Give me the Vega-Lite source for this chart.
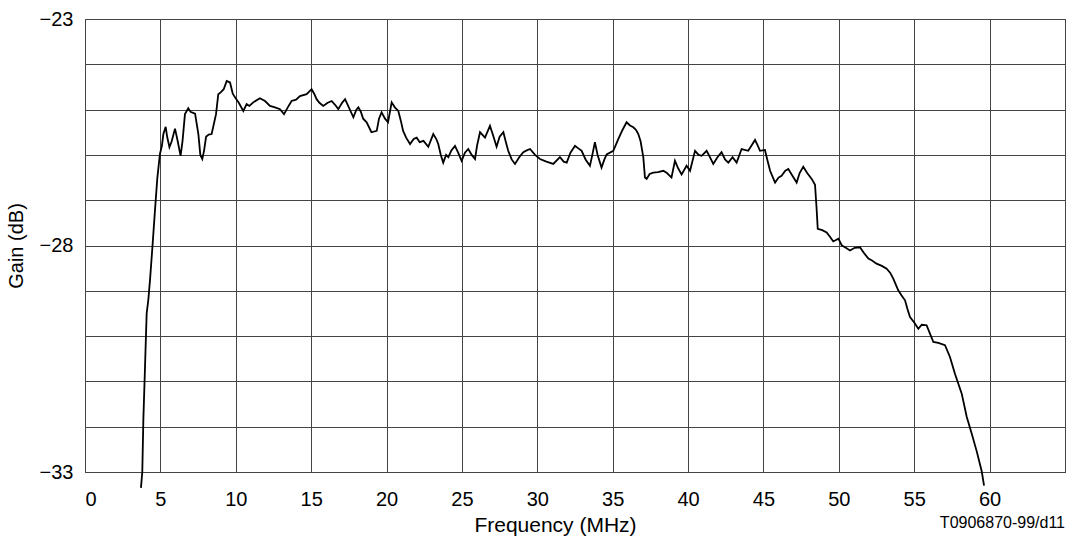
{
  "$schema": "https://vega.github.io/schema/vega-lite/v6.json",
  "width": 980,
  "height": 453,
  "autosize": "none",
  "padding": {"left": 85, "top": 19, "right": 7, "bottom": 66},
  "config": {
    "view": {"stroke": "#333", "strokeWidth": 1},
    "font": "Liberation Sans",
    "background": "white"
  },
  "data": {
    "values": [
      {"f": 3.71, "g": -33.35}, {"f": 3.8, "g": -33.0}, {"f": 3.87, "g": -31.85}, {"f": 3.98, "g": -30.68},
      {"f": 4.09, "g": -29.5}, {"f": 4.2, "g": -29.2}, {"f": 4.31, "g": -28.77}, {"f": 4.47, "g": -28.04},
      {"f": 4.64, "g": -27.23}, {"f": 4.8, "g": -26.5}, {"f": 4.97, "g": -25.98}, {"f": 5.1, "g": -25.8},
      {"f": 5.2, "g": -25.54}, {"f": 5.35, "g": -25.38}, {"f": 5.45, "g": -25.6}, {"f": 5.6, "g": -25.83},
      {"f": 5.75, "g": -25.7}, {"f": 5.97, "g": -25.42}, {"f": 6.15, "g": -25.7}, {"f": 6.34, "g": -26.02},
      {"f": 6.47, "g": -25.69}, {"f": 6.63, "g": -25.1}, {"f": 6.85, "g": -24.97}, {"f": 7.0, "g": -25.05},
      {"f": 7.3, "g": -25.09}, {"f": 7.52, "g": -25.54}, {"f": 7.65, "g": -26.0}, {"f": 7.78, "g": -26.09},
      {"f": 7.9, "g": -25.9}, {"f": 8.03, "g": -25.6}, {"f": 8.2, "g": -25.55}, {"f": 8.4, "g": -25.54},
      {"f": 8.69, "g": -25.1}, {"f": 8.84, "g": -24.66}, {"f": 9.0, "g": -24.62}, {"f": 9.2, "g": -24.55},
      {"f": 9.4, "g": -24.37}, {"f": 9.62, "g": -24.4}, {"f": 9.8, "g": -24.65}, {"f": 9.95, "g": -24.73},
      {"f": 10.2, "g": -24.85}, {"f": 10.5, "g": -25.03}, {"f": 10.72, "g": -24.88}, {"f": 10.9, "g": -24.92},
      {"f": 11.16, "g": -24.84}, {"f": 11.6, "g": -24.75}, {"f": 11.94, "g": -24.81}, {"f": 12.27, "g": -24.92},
      {"f": 12.6, "g": -24.95}, {"f": 12.93, "g": -24.99}, {"f": 13.2, "g": -25.1}, {"f": 13.45, "g": -24.95},
      {"f": 13.7, "g": -24.81}, {"f": 14.0, "g": -24.78}, {"f": 14.26, "g": -24.7}, {"f": 14.7, "g": -24.66},
      {"f": 15.03, "g": -24.55}, {"f": 15.2, "g": -24.65}, {"f": 15.36, "g": -24.77}, {"f": 15.55, "g": -24.85},
      {"f": 15.8, "g": -24.92}, {"f": 16.1, "g": -24.85}, {"f": 16.36, "g": -24.81}, {"f": 16.6, "g": -24.9},
      {"f": 16.8, "g": -24.99}, {"f": 17.05, "g": -24.85}, {"f": 17.25, "g": -24.77}, {"f": 17.5, "g": -24.95},
      {"f": 17.8, "g": -25.17}, {"f": 18.0, "g": -25.0}, {"f": 18.13, "g": -24.95}, {"f": 18.3, "g": -25.05},
      {"f": 18.45, "g": -25.2}, {"f": 18.68, "g": -25.28}, {"f": 19.0, "g": -25.5}, {"f": 19.35, "g": -25.47},
      {"f": 19.5, "g": -25.2}, {"f": 19.67, "g": -25.06}, {"f": 19.9, "g": -25.2}, {"f": 20.1, "g": -25.28},
      {"f": 20.34, "g": -24.84}, {"f": 20.55, "g": -24.95}, {"f": 20.78, "g": -25.03}, {"f": 20.95, "g": -25.25},
      {"f": 21.1, "g": -25.47}, {"f": 21.3, "g": -25.62}, {"f": 21.56, "g": -25.76}, {"f": 21.8, "g": -25.65},
      {"f": 22.0, "g": -25.62}, {"f": 22.2, "g": -25.72}, {"f": 22.45, "g": -25.69}, {"f": 22.77, "g": -25.82},
      {"f": 23.1, "g": -25.54}, {"f": 23.3, "g": -25.65}, {"f": 23.43, "g": -25.76}, {"f": 23.6, "g": -26.0},
      {"f": 23.76, "g": -26.17}, {"f": 23.95, "g": -26.0}, {"f": 24.1, "g": -26.05}, {"f": 24.3, "g": -25.9},
      {"f": 24.54, "g": -25.8}, {"f": 24.75, "g": -25.95}, {"f": 24.98, "g": -26.13}, {"f": 25.2, "g": -25.95},
      {"f": 25.42, "g": -25.87}, {"f": 25.65, "g": -26.0}, {"f": 25.87, "g": -26.09}, {"f": 26.0, "g": -25.8},
      {"f": 26.2, "g": -25.5}, {"f": 26.53, "g": -25.62}, {"f": 26.86, "g": -25.36}, {"f": 27.05, "g": -25.55},
      {"f": 27.3, "g": -25.82}, {"f": 27.5, "g": -25.6}, {"f": 27.75, "g": -25.5}, {"f": 27.9, "g": -25.7},
      {"f": 28.07, "g": -25.91}, {"f": 28.3, "g": -26.1}, {"f": 28.52, "g": -26.2}, {"f": 28.8, "g": -26.05},
      {"f": 29.07, "g": -25.94}, {"f": 29.3, "g": -25.9}, {"f": 29.52, "g": -25.87}, {"f": 29.85, "g": -26.0},
      {"f": 30.18, "g": -26.09}, {"f": 30.6, "g": -26.15}, {"f": 31.06, "g": -26.2}, {"f": 31.5, "g": -26.05},
      {"f": 31.75, "g": -26.15}, {"f": 31.95, "g": -26.17}, {"f": 32.2, "g": -25.95}, {"f": 32.5, "g": -25.8},
      {"f": 32.7, "g": -25.85}, {"f": 32.94, "g": -25.91}, {"f": 33.2, "g": -26.1}, {"f": 33.49, "g": -26.24},
      {"f": 33.65, "g": -26.0}, {"f": 33.82, "g": -25.72}, {"f": 34.0, "g": -26.0}, {"f": 34.26, "g": -26.28},
      {"f": 34.45, "g": -26.1}, {"f": 34.6, "g": -25.99}, {"f": 35.04, "g": -25.91}, {"f": 35.37, "g": -25.65},
      {"f": 35.65, "g": -25.45}, {"f": 35.92, "g": -25.28}, {"f": 36.15, "g": -25.35}, {"f": 36.37, "g": -25.39},
      {"f": 36.55, "g": -25.45}, {"f": 36.7, "g": -25.54}, {"f": 36.85, "g": -25.7}, {"f": 37.03, "g": -26.05},
      {"f": 37.14, "g": -26.5}, {"f": 37.25, "g": -26.53}, {"f": 37.45, "g": -26.42}, {"f": 37.69, "g": -26.39},
      {"f": 38.0, "g": -26.38}, {"f": 38.36, "g": -26.35}, {"f": 38.6, "g": -26.4}, {"f": 38.9, "g": -26.5},
      {"f": 39.13, "g": -26.13}, {"f": 39.35, "g": -26.3}, {"f": 39.57, "g": -26.43}, {"f": 39.9, "g": -26.24},
      {"f": 40.13, "g": -26.35}, {"f": 40.46, "g": -25.91}, {"f": 40.7, "g": -26.0}, {"f": 40.9, "g": -26.02},
      {"f": 41.23, "g": -25.91}, {"f": 41.45, "g": -26.05}, {"f": 41.67, "g": -26.2}, {"f": 41.95, "g": -26.05},
      {"f": 42.22, "g": -25.94}, {"f": 42.45, "g": -26.1}, {"f": 42.67, "g": -26.17}, {"f": 42.95, "g": -26.05},
      {"f": 43.22, "g": -26.17}, {"f": 43.55, "g": -25.87}, {"f": 43.99, "g": -25.91}, {"f": 44.2, "g": -25.8},
      {"f": 44.44, "g": -25.67}, {"f": 44.6, "g": -25.78}, {"f": 44.77, "g": -25.91}, {"f": 45.1, "g": -25.89},
      {"f": 45.25, "g": -26.1}, {"f": 45.44, "g": -26.35}, {"f": 45.77, "g": -26.61}, {"f": 46.0, "g": -26.5},
      {"f": 46.2, "g": -26.46}, {"f": 46.45, "g": -26.35}, {"f": 46.65, "g": -26.31}, {"f": 46.9, "g": -26.45},
      {"f": 47.2, "g": -26.61}, {"f": 47.4, "g": -26.4}, {"f": 47.64, "g": -26.26}, {"f": 47.9, "g": -26.4},
      {"f": 48.2, "g": -26.53}, {"f": 48.42, "g": -26.66}, {"f": 48.52, "g": -27.16}, {"f": 48.6, "g": -27.63},
      {"f": 48.9, "g": -27.66}, {"f": 49.19, "g": -27.71}, {"f": 49.4, "g": -27.8}, {"f": 49.63, "g": -27.91},
      {"f": 49.97, "g": -27.85}, {"f": 50.2, "g": -28.0}, {"f": 50.41, "g": -28.04}, {"f": 50.74, "g": -28.11},
      {"f": 51.05, "g": -28.05}, {"f": 51.4, "g": -28.04}, {"f": 51.7, "g": -28.18}, {"f": 51.96, "g": -28.29},
      {"f": 52.2, "g": -28.33}, {"f": 52.5, "g": -28.4}, {"f": 52.85, "g": -28.45}, {"f": 53.17, "g": -28.51},
      {"f": 53.4, "g": -28.6}, {"f": 53.61, "g": -28.73}, {"f": 53.94, "g": -28.99}, {"f": 54.15, "g": -29.1},
      {"f": 54.39, "g": -29.21}, {"f": 54.55, "g": -29.4}, {"f": 54.72, "g": -29.58}, {"f": 55.0, "g": -29.7},
      {"f": 55.27, "g": -29.84}, {"f": 55.5, "g": -29.75}, {"f": 55.82, "g": -29.76}, {"f": 56.05, "g": -29.95},
      {"f": 56.27, "g": -30.13}, {"f": 56.6, "g": -30.15}, {"f": 57.04, "g": -30.2}, {"f": 57.37, "g": -30.46},
      {"f": 57.7, "g": -30.83}, {"f": 58.15, "g": -31.27}, {"f": 58.48, "g": -31.78}, {"f": 58.81, "g": -32.15},
      {"f": 59.15, "g": -32.55}, {"f": 59.48, "g": -32.99}, {"f": 59.63, "g": -33.3}
    ]
  },
  "layer": [
    {
      "mark": {"type": "line", "color": "black", "strokeWidth": 1.8, "clip": false},
      "encoding": {
        "x": {
          "field": "f", "type": "quantitative",
          "scale": {"domain": [0, 65], "nice": false, "zero": false},
          "axis": {
            "values": [0, 5, 10, 15, 20, 25, 30, 35, 40, 45, 50, 55, 60, 65],
            "labelExpr": "datum.value == 65 ? '' : datum.label",
            "grid": true, "gridColor": "#444", "gridWidth": 1, "gridOpacity": 1,
            "ticks": false, "tickSize": 0, "domain": false,
            "labelFontSize": 20, "labelColor": "black", "labelPadding": 17,
            "labelFont": "Liberation Sans",
            "title": "Frequency (MHz)", "titleFontSize": 21, "titleFontWeight": "normal",
            "titleColor": "black", "titleFont": "Liberation Sans",
            "titleX": 470, "titleY": 59, "titleBaseline": "alphabetic"
          }
        },
        "y": {
          "field": "g", "type": "quantitative",
          "scale": {"domain": [-33, -23], "nice": false, "zero": false},
          "axis": {
            "values": [-23, -24, -25, -26, -27, -28, -29, -30, -31, -32, -33],
            "labelExpr": "datum.value % 5 == -3 ? datum.label : ''",
            "grid": true, "gridColor": "#444", "gridWidth": 1, "gridOpacity": 1,
            "ticks": false, "tickSize": 0, "domain": false,
            "labelFontSize": 20, "labelColor": "black", "labelPadding": 12,
            "labelFont": "Liberation Sans",
            "title": "Gain (dB)", "titleFontSize": 20, "titleFontWeight": "normal",
            "titleColor": "black", "titleFont": "Liberation Sans", "titlePadding": 13
          }
        }
      }
    },
    {
      "data": {"values": [{"label": "T0906870-99/d11", "x": 65, "y": -33}]},
      "mark": {"type": "text", "align": "right", "baseline": "alphabetic", "fontSize": 16, "dy": 56, "color": "black", "font": "Liberation Sans"},
      "encoding": {
        "x": {"field": "x", "type": "quantitative"},
        "y": {"field": "y", "type": "quantitative"},
        "text": {"field": "label"}
      }
    }
  ]
}
